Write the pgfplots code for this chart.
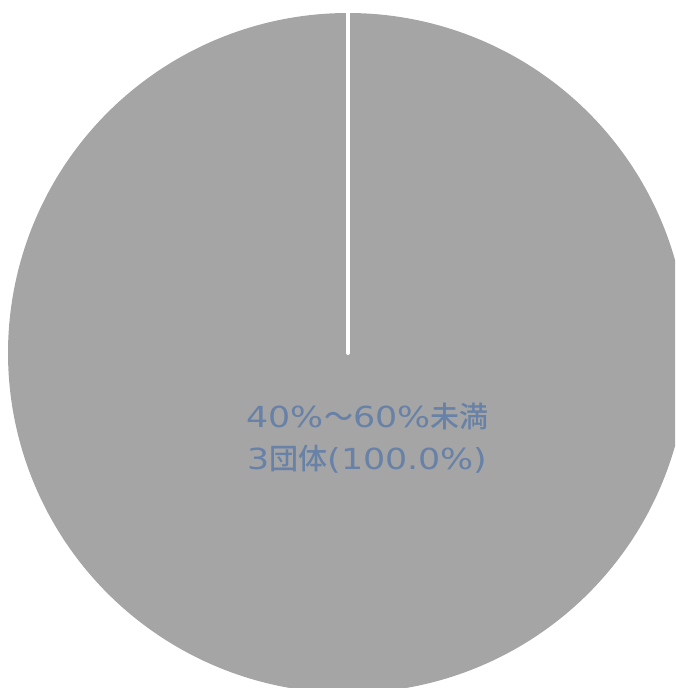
\documentclass[border=0pt]{standalone}
\usepackage{pgfplots}
\pgfplotsset{compat=1.18}
\usepackage{fontspec}
\newfontfamily\cjk{Noto Sans CJK JP Medium}
\newfontfamily\lat{DejaVu Sans}[FakeStretch=1.2]
\definecolor{slicegray}{RGB}{165,165,165}
\definecolor{labelblue}{RGB}{104,129,167}
\begin{document}
\begin{tikzpicture}
\begin{axis}[
  anchor=origin, at={(0,0)},
  x=1pt, y=1pt,
  xmin=0, xmax=675, ymin=0, ymax=688,
  hide axis, clip=true,
]
% one slice: 3 organisations, 100.0%
\def\total{100}
\def\val{100}
\addplot[fill=slicegray, draw=none, domain=0:1, samples=361, variable=\t]
  ({348+340*cos(90-360*\val/\total*\t)}, {335+340*sin(90-360*\val/\total*\t)}) -- (axis cs:348,335) -- cycle;
\addplot[white, line width=4pt, line cap=round] coordinates {(348,335) (348,690)};
\node[text=labelblue, font=\fontsize{29}{42}\selectfont, align=center, anchor=base]
  at (axis cs:367.5,218) {{\lat 40\%}{\cjk ～}{\lat 60\%}{\cjk 未満}\\{\lat 3}{\cjk 団体}{\lat (100.0\%)}};
\end{axis}
\pgfresetboundingbox
\useasboundingbox (0,0) rectangle (675pt,688pt);
\end{tikzpicture}
\end{document}
